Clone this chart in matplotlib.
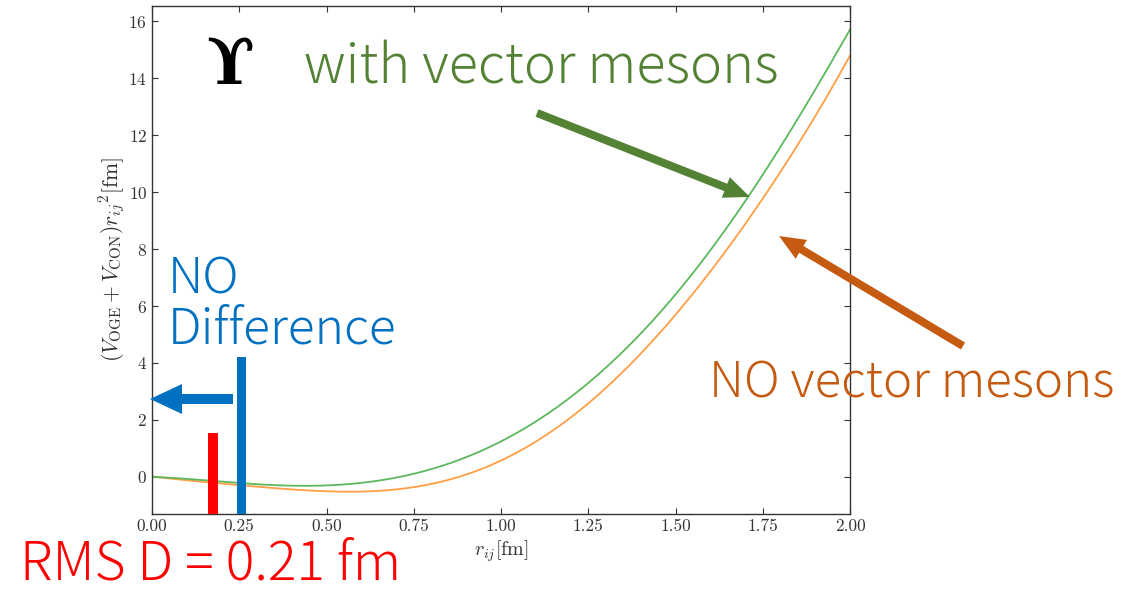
import numpy as np
import matplotlib
matplotlib.use('Agg')
from matplotlib import pyplot as plt
from matplotlib.patches import FancyArrow, Rectangle

plt.rcParams['mathtext.fontset'] = 'cm'
plt.rcParams['font.family'] = 'serif'
plt.rcParams['font.serif'] = ['cmr10', 'DejaVu Serif']
plt.rcParams['axes.formatter.use_mathtext'] = True

# r_ij [fm]
r = [0.0, 0.1, 0.2, 0.3, 0.4, 0.5, 0.6, 0.7, 0.8, 0.9, 1.0,
     1.1, 1.2, 1.3, 1.4, 1.5, 1.6, 1.7, 1.8, 1.9, 2.0]
# (V_OGE + V_CON) r_ij^2 with vector mesons
v_with = [0.0, -0.06, -0.17, -0.26, -0.30, -0.30, -0.21, -0.02, 0.28, 0.70, 1.24,
          1.94, 2.80, 3.84, 5.04, 6.40, 7.96, 9.68, 11.56, 13.60, 15.70]
# without vector mesons
v_without = [0.0, -0.08, -0.22, -0.35, -0.48, -0.53, -0.50, -0.40, -0.18, 0.10, 0.48,
             1.21, 2.10, 3.15, 4.34, 5.70, 7.21, 8.87, 10.69, 12.66, 14.79]

xticks = [0.0, 0.25, 0.5, 0.75, 1.0, 1.25, 1.5, 1.75, 2.0]
xticklabels = ['0.00', '0.25', '0.50', '0.75', '1.00', '1.25', '1.50', '1.75', '2.00']
yticks = [0, 2, 4, 6, 8, 10, 12, 14, 16]

W, H = 1139, 591
fig = plt.figure(figsize=(W / 100, H / 100), dpi=100)
ax = fig.add_axes([152 / W, 1 - 514 / H, 698 / W, 508 / H])

# smooth curves through the read points
rs = np.linspace(0, 2, 400)
ax.plot(rs, np.polyval(np.polyfit(r, v_without, 6), rs), color='#ff9e45', lw=1.3)
ax.plot(rs, np.polyval(np.polyfit(r, v_with, 6), rs), color='#5cb85c', lw=1.3)

ax.set_xlim(0, 2)
ax.set_ylim(-1.3, 16.53)
ax.set_xticks(xticks)
ax.set_xticklabels(xticklabels)
ax.set_yticks(yticks)
ax.tick_params(direction='in', top=True, right=True, labelsize=12.5,
               colors='#333333', length=4, width=0.8)
for s in ax.spines.values():
    s.set_color('#333333')
    s.set_linewidth(1.0)
ax.set_xlabel(r'$r_{ij}[\mathrm{fm}]$', fontsize=14.5, color='#333333', labelpad=3)
ax.set_ylabel(r'$(V_{\mathrm{OGE}}+V_{\mathrm{CON}}){r_{ij}}^{2}[\mathrm{fm}]$',
              fontsize=15.5, color='#333333', labelpad=0)

# overlay in pixel coordinates for the slide annotations
ov = fig.add_axes([0, 0, 1, 1], zorder=5)
ov.set_xlim(0, W)
ov.set_ylim(H, 0)
ov.axis('off')

sans = ['Noto Sans CJK JP', 'DejaVu Sans']
kw = dict(family=sans, weight='light', ha='left', va='baseline')
ov.text(230, 66, '\u03d2', fontsize=45, color='black', family='DejaVu Serif',
        weight='bold', ha='center', va='center')
ov.text(304, 83, 'with vector mesons', fontsize=39, color='#548235', **kw)
ov.text(168, 293, 'NO', fontsize=36, color='#0070c0', **kw)
ov.text(168, 343, 'Difference', fontsize=36, color='#0070c0', **kw)
ov.text(709, 398, 'NO vector mesons', fontsize=35.5, color='#c55a11', **kw)
ov.text(20, 580, 'RMS D = 0.21 fm', fontsize=38.5, color='#ff0000', **kw)

ov.add_patch(FancyArrow(537, 113, 213, 84, width=8, head_width=22, head_length=26,
                        length_includes_head=True, color='#548235', lw=0))
ov.add_patch(FancyArrow(963, 346, -184, -110, width=8, head_width=22, head_length=26,
                        length_includes_head=True, color='#c55a11', lw=0))
ov.add_patch(FancyArrow(233, 399, -83, 0, width=10, head_width=30, head_length=32,
                        length_includes_head=True, color='#0070c0', lw=0))
ov.add_patch(Rectangle((236.5, 357), 9, 157, color='#0070c0', lw=0))
ov.add_patch(Rectangle((207.5, 433), 10, 81, color='#ff0000', lw=0))

fig.savefig('out.png', dpi=100)
